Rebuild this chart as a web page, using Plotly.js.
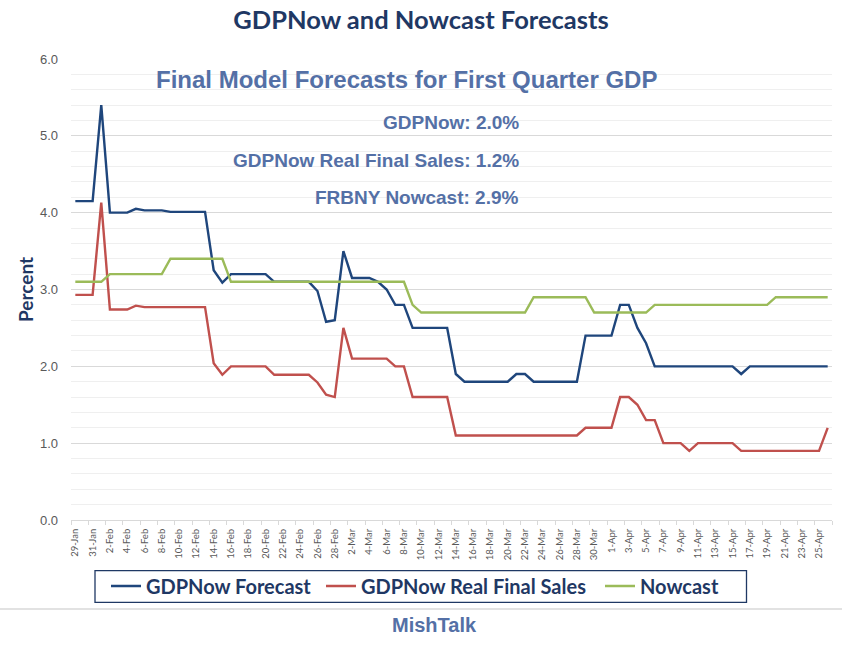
<!DOCTYPE html>
<html>
<head>
<meta charset="utf-8">
<script src="https://cdn.plot.ly/plotly-3.0.1.min.js"></script>
<style>
html,body{margin:0;padding:0;background:#fff;}
#chart{width:842px;height:645px;}
</style>
</head>
<body>
<div id="chart"></div>
<script>
var dates = [
"29-Jan","30-Jan","31-Jan",
"1-Feb","2-Feb","3-Feb","4-Feb","5-Feb","6-Feb","7-Feb","8-Feb","9-Feb","10-Feb",
"11-Feb","12-Feb","13-Feb","14-Feb","15-Feb","16-Feb","17-Feb","18-Feb","19-Feb","20-Feb",
"21-Feb","22-Feb","23-Feb","24-Feb","25-Feb","26-Feb","27-Feb","28-Feb",
"1-Mar","2-Mar","3-Mar","4-Mar","5-Mar","6-Mar","7-Mar","8-Mar","9-Mar","10-Mar",
"11-Mar","12-Mar","13-Mar","14-Mar","15-Mar","16-Mar","17-Mar","18-Mar","19-Mar","20-Mar",
"21-Mar","22-Mar","23-Mar","24-Mar","25-Mar","26-Mar","27-Mar","28-Mar","29-Mar","30-Mar","31-Mar",
"1-Apr","2-Apr","3-Apr","4-Apr","5-Apr","6-Apr","7-Apr","8-Apr","9-Apr","10-Apr",
"11-Apr","12-Apr","13-Apr","14-Apr","15-Apr","16-Apr","17-Apr","18-Apr","19-Apr","20-Apr",
"21-Apr","22-Apr","23-Apr","24-Apr","25-Apr","26-Apr"
];

var gdpnow = [
4.15,4.15,4.15,5.4,4.0,4.0,4.0,4.05,4.03,4.03,
4.03,4.01,4.01,4.01,4.01,4.01,3.25,3.09,3.2,3.2,
3.2,3.2,3.2,3.1,3.1,3.1,3.1,3.1,2.98,2.58,
2.6,3.5,3.15,3.15,3.15,3.1,3.0,2.8,2.8,2.5,
2.5,2.5,2.5,2.5,1.9,1.8,1.8,1.8,1.8,1.8,
1.8,1.9,1.9,1.8,1.8,1.8,1.8,1.8,1.8,2.4,
2.4,2.4,2.4,2.8,2.8,2.5,2.3,2.0,2.0,2.0,
2.0,2.0,2.0,2.0,2.0,2.0,2.0,1.9,2.0,2.0,
2.0,2.0,2.0,2.0,2.0,2.0,2.0,2.0
];

var realFinalSales = [
2.93,2.93,2.93,4.13,2.74,2.74,2.74,2.79,2.77,2.77,
2.77,2.77,2.77,2.77,2.77,2.77,2.04,1.89,2.0,2.0,
2.0,2.0,2.0,1.89,1.89,1.89,1.89,1.89,1.79,1.63,
1.6,2.5,2.1,2.1,2.1,2.1,2.1,2.0,2.0,1.6,
1.6,1.6,1.6,1.6,1.1,1.1,1.1,1.1,1.1,1.1,
1.1,1.1,1.1,1.1,1.1,1.1,1.1,1.1,1.1,1.2,
1.2,1.2,1.2,1.6,1.6,1.5,1.3,1.3,1.0,1.0,
1.0,0.9,1.0,1.0,1.0,1.0,1.0,0.9,0.9,0.9,
0.9,0.9,0.9,0.9,0.9,0.9,0.9,1.2
];

var nowcast = [
3.1,3.1,3.1,3.1,3.2,3.2,3.2,3.2,3.2,3.2,
3.2,3.4,3.4,3.4,3.4,3.4,3.4,3.4,3.1,3.1,
3.1,3.1,3.1,3.1,3.1,3.1,3.1,3.1,3.1,3.1,
3.1,3.1,3.1,3.1,3.1,3.1,3.1,3.1,3.1,2.8,
2.7,2.7,2.7,2.7,2.7,2.7,2.7,2.7,2.7,2.7,
2.7,2.7,2.7,2.9,2.9,2.9,2.9,2.9,2.9,2.9,
2.7,2.7,2.7,2.7,2.7,2.7,2.7,2.8,2.8,2.8,
2.8,2.8,2.8,2.8,2.8,2.8,2.8,2.8,2.8,2.8,
2.8,2.9,2.9,2.9,2.9,2.9,2.9,2.9
];

var seriesNames = ["GDPNow Forecast", "GDPNow Real Final Sales", "Nowcast"];
var seriesColors = ["#1F467C", "#C0504D", "#9BBB59"];
var legendIds = ["legend", "legend2", "legend3"];
var yTicks = [0, 1, 2, 3, 4, 5, 6];

var navy = "#1F3864";
var steel = "#5470A6";

// plot-area geometry (pixels) used to place decorations
var L = 71, R = 10, T = 59, B = 125, W = 842, H = 645;
var PW = W - L - R, PH = H - T - B;
function px(x) { return (x - L) / PW; }
function py(y) { return (H - B - y) / PH; }

var traces = [gdpnow, realFinalSales, nowcast].map(function (vals, i) {
  return {
    type: "scatter",
    mode: "lines",
    x: dates,
    y: vals,
    name: seriesNames[i],
    legend: legendIds[i],
    line: {color: seriesColors[i], width: 2.4},
    hoverinfo: "x+y+name"
  };
});

function legendAt(xPix) {
  return {
    xref: "container", yref: "container",
    x: xPix / W, xanchor: "left",
    y: 1 - 586 / H, yanchor: "middle",
    borderwidth: 0,
    bgcolor: "rgba(0,0,0,0)",
    font: {family: "Lato, 'Open Sans', sans-serif", size: 20, color: navy, weight: "bold"}
  };
}

var layout = {
  width: W,
  height: H,
  margin: {l: L, r: R, t: T, b: B, autoexpand: false},
  paper_bgcolor: "#ffffff",
  plot_bgcolor: "#ffffff",
  showlegend: true,
  title: {
    text: "<b>GDPNow and Nowcast Forecasts</b>",
    font: {family: "Lato, 'Open Sans', sans-serif", size: 25.5, color: navy},
    x: 0.5, xanchor: "center",
    y: 1 - 20 / H, yanchor: "middle", yref: "container"
  },
  xaxis: {
    type: "category",
    range: [-0.5, dates.length - 0.5],
    tickmode: "linear",
    tick0: 0,
    dtick: 2,
    tickangle: -90,
    tickson: "boundaries",
    ticks: "outside",
    ticklen: 4,
    tickcolor: "#d9d9d9",
    showline: true,
    linecolor: "#d9d9d9",
    linewidth: 1,
    showgrid: false,
    zeroline: false,
    automargin: false,
    ticklabelstandoff: 4,
    tickfont: {family: "Lato, 'Open Sans', sans-serif", size: 9.5, color: "#595959"},
    fixedrange: true
  },
  yaxis: {
    range: [0, 6],
    tickvals: yTicks,
    tickformat: ".1f",
    showgrid: true,
    gridcolor: "#d9d9d9",
    gridwidth: 1,
    minor: {dtick: 0.2, showgrid: true, gridcolor: "#efefef", gridwidth: 1},
    zeroline: false,
    showline: false,
    ticks: "",
    automargin: false,
    ticklabelstandoff: 12,
    tickfont: {family: "'Liberation Sans', Arial, sans-serif", size: 13, color: "#595959"},
    fixedrange: true
  },
  legend: legendAt(106),
  legend2: legendAt(321),
  legend3: legendAt(600),
  shapes: [
    {type: "rect", xref: "paper", yref: "paper",
     x0: px(95), x1: px(746.5), y0: py(570.7), y1: py(602.3),
     line: {color: navy, width: 1.3}, fillcolor: "rgba(0,0,0,0)"},
    {type: "line", xref: "paper", yref: "paper",
     x0: px(0), x1: px(W), y0: py(609), y1: py(609),
     line: {color: "#d9d9d9", width: 1.5}}
  ],
  annotations: [
    {text: "<b>Percent</b>",
     xref: "paper", yref: "paper", x: px(25), y: py(290),
     xanchor: "center", yanchor: "middle", textangle: -90, showarrow: false,
     font: {family: "Lato, 'Open Sans', sans-serif", size: 19, color: navy}},
    {text: "<b>Final Model Forecasts for First Quarter GDP</b>",
     xref: "paper", yref: "paper", x: px(406), y: py(80),
     xanchor: "center", yanchor: "middle", showarrow: false,
     font: {family: "'Liberation Sans', Arial, sans-serif", size: 24, color: steel}},
    {text: "<b>GDPNow: 2.0%</b>",
     xref: "paper", yref: "paper", x: px(521), y: py(123),
     xanchor: "right", yanchor: "middle", showarrow: false,
     font: {family: "'Liberation Sans', Arial, sans-serif", size: 19, color: steel}},
    {text: "<b>GDPNow Real Final Sales: 1.2%</b>",
     xref: "paper", yref: "paper", x: px(521), y: py(160),
     xanchor: "right", yanchor: "middle", showarrow: false,
     font: {family: "'Liberation Sans', Arial, sans-serif", size: 19, color: steel}},
    {text: "<b>FRBNY Nowcast: 2.9%</b>",
     xref: "paper", yref: "paper", x: px(521), y: py(197),
     xanchor: "right", yanchor: "middle", showarrow: false,
     font: {family: "'Liberation Sans', Arial, sans-serif", size: 19, color: steel}},
    {text: "<b>MishTalk</b>",
     xref: "paper", yref: "paper", x: px(434), y: py(625),
     xanchor: "center", yanchor: "middle", showarrow: false,
     font: {family: "'Liberation Sans', Arial, sans-serif", size: 20, color: steel}}
  ]
};

Plotly.newPlot("chart", traces, layout, {displayModeBar: false, staticPlot: true});
</script>
</body>
</html>
